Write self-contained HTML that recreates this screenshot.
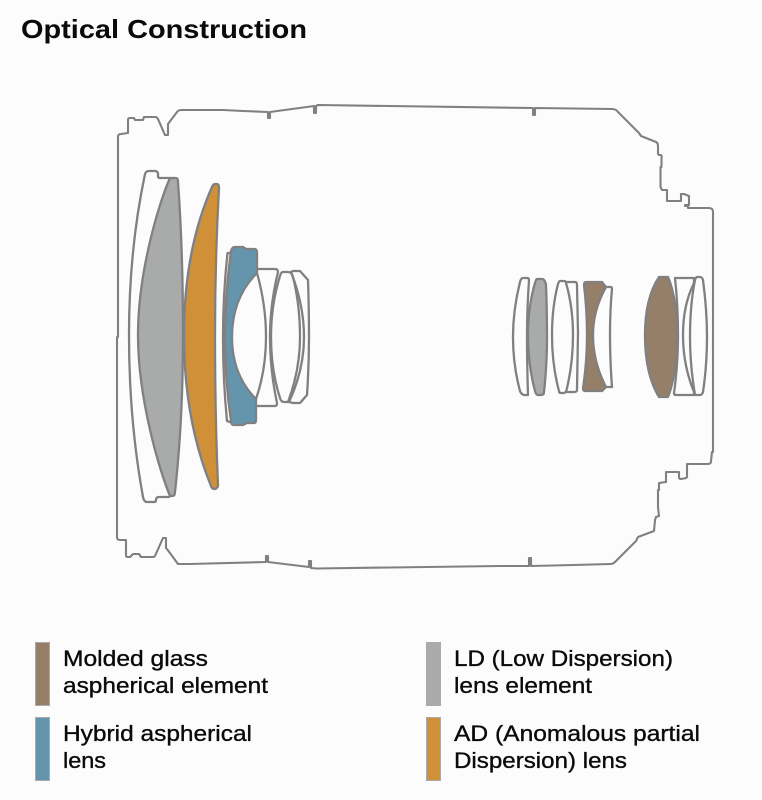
<!DOCTYPE html>
<html><head><meta charset="utf-8"><style>
html,body{margin:0;padding:0;background:#fcfcfc}
svg{display:block}
text{font-family:"Liberation Sans",sans-serif;fill:#0a0a0a;font-size:22px;stroke:#0a0a0a;stroke-width:.35px}
.l{fill:none;stroke:#808080;stroke-width:2.3;stroke-linejoin:round;stroke-linecap:round}
.o{stroke-width:2.1}
.sw{stroke:#aaa;stroke-width:1}
</style></head><body>
<svg width="762" height="800" viewBox="0 0 762 800" xmlns="http://www.w3.org/2000/svg">
<rect width="762" height="800" fill="#fcfcfc"/>
<text x="21" y="38" textLength="286" lengthAdjust="spacingAndGlyphs" style="font-size:26px;font-weight:bold;stroke:none">Optical Construction</text>

<path class="l o" d="M118 337V137Q118 134 121 134L128 133V120Q128 118 130 118H134L135 120H143L144 117H155Q157 117 158 119L165 135H168V124L177 112Q178 110 182 110L223 110L243 111L268 112V118H270V112L314 106V113H316V106L318 105L533 108V115H535V108L612 109Q616 109 618 112L639 133L641 136L656 142Q658 143 658 146V154L659 155H661Q662 156 661.500 158V167H660.500V187L662 190H667V201H681V194H684L689 196V205H685V206L688 206V208H709Q713 208 713 212V220"/>
<path class="l o" d="M713 220V452H712L711 461Q711 464 708 464H687V477Q687 478 684 478.500L681 479Q679 479 679 477V472H666V482L659 483V490H658V507L659 516L656 517L655 520L654 531L638 537L636 541L615 562Q613 564 610 564L574 565L531 566V558H529V566L500 566L317 568.500L311 568V561H309V567L268 562V556H266V562L190 564H178L167 549L166 548V538H163L155 556Q154 557 153 557H141L139 554H133L130 557H127L126 556V540H120Q117 540 117 537V337"/>

<path class="l" d="M170 178H160Q158 178 158 176V173Q157 171 155 171H149Q146 171 145 174Q129 250 129 335Q129 420 143 497Q144 502 147 502H154Q156 502 156 500Q156 497 159 497H169"/>
<path class="l" style="fill:#a9abaa" d="M170 178H176Q178 178 178 182Q183 250 183 335Q183 420 175 492Q175 496 172 496H170C160 472 138 400 138 335C138 270 160 200 170 178Z"/>
<path class="l" style="fill:#d09038" d="M212 187Q213 184 215 184H217Q219 184 219 188Q215 260 215 335Q215 415 218 485Q218 488 215 489H214Q212 489 211 486Q184 420 184 335Q184 250 212 187Z"/>

<path class="l" d="M231 253H227.500Q223 295 223 337Q223 380 227 421L230 422"/>
<path class="l" style="fill:#6595ad" d="M231 251Q232 247 235 247H243L246 249H254Q257 249 257 252V273Q232 298 232 337Q232 375 256 399V420Q256 423 254 423H247L243 425H234Q231 425 231 421Q225 380 225 337Q225 295 231 251Z"/>
<path class="l" d="M257 269H275Q278 269 278 272Q270 305 270 337Q270 370 277 403Q277 406 275 406H257M257 273Q266 305 266 337Q266 370 256 399"/>
<path class="l" d="M288 402H284Q281 402 280 398Q271 370 271 337Q271 305 280 276Q281 272 283 272H288Q292 272 293 277Q300 305 300 337Q300 370 288 402Z"/>
<path class="l" d="M291 272L293 271H300L308 280Q309 310 309 337Q309 365 307 395L300 403H293L289 402M291 272Q304 305 304 337Q304 370 289 402"/>

<path class="l" d="M523 278H527Q529 278 529 280Q527 310 527 337Q527 365 528 395H524Q521 394 520 391Q513 365 513 337Q513 310 520 282Q521 278 523 278Z"/>
<path class="l" style="fill:#a9abaa" d="M537 279H542Q545 279 546 285Q547 310 547 337Q547 365 544 392Q544 395 541 395H538Q536 395 535 391Q528 365 528 335Q528 307 535 283Q536 279 537 279Z"/>
<path class="l" d="M560 281H564Q566 281 566 283Q573 307 573 335Q573 365 566 392L564 393H561Q559 393 559 391Q552 365 552 335Q552 307 558 284Q559 281 560 281Z"/>
<path class="l" d="M566 282H575Q577 282 577 285L578 333L577 390Q577 392 574 392H566"/>
<path class="l" d="M606 287H611Q612 287 612 289Q610 310 610 335Q610 360 612 387H605"/>
<path class="l" style="fill:#957f68" d="M584 285Q584 282 586 282H602L606 287Q593 310 593 335Q593 362 606 387L602 391H585Q583 391 583 388Q587 362 587 335Q587 310 584 285Z"/>
<path class="l" style="fill:#957f68" d="M659 277H668Q677 298 677 335Q677 374 668 397H659Q645 374 645 335Q645 298 659 277Z"/>
<path class="l" d="M675 278H694V283Q683 305 683 335Q683 365 694 392V395H676Q674 395 674 393Q678 365 678 335Q678 305 675 278Z"/>
<path class="l" d="M697 277H700Q702 277 703 280Q707 310 707 337Q707 365 703 392Q702 395 700 395H695Q690 365 690 337Q690 305 695 280Q696 277 697 277Z"/>

<rect class="sw" x="35.500" y="642.500" width="14" height="63" fill="#957f68"/>
<rect class="sw" x="35.500" y="717.500" width="14" height="63" fill="#6595ad"/>
<rect class="sw" x="426.500" y="642.500" width="14" height="63" fill="#a9abaa"/>
<rect class="sw" x="426.500" y="717.500" width="14" height="63" fill="#d09038"/>

<text x="63" y="666" textLength="145" lengthAdjust="spacingAndGlyphs">Molded glass</text>
<text x="63" y="693" textLength="205" lengthAdjust="spacingAndGlyphs">aspherical element</text>
<text x="63" y="741" textLength="189" lengthAdjust="spacingAndGlyphs">Hybrid aspherical</text>
<text x="63" y="768" textLength="43" lengthAdjust="spacingAndGlyphs">lens</text>
<text x="454" y="666" textLength="219" lengthAdjust="spacingAndGlyphs">LD (Low Dispersion)</text>
<text x="454" y="693" textLength="138" lengthAdjust="spacingAndGlyphs">lens element</text>
<text x="454" y="741" textLength="246" lengthAdjust="spacingAndGlyphs">AD (Anomalous partial</text>
<text x="454" y="768" textLength="173" lengthAdjust="spacingAndGlyphs">Dispersion) lens</text>
</svg>
</body></html>
